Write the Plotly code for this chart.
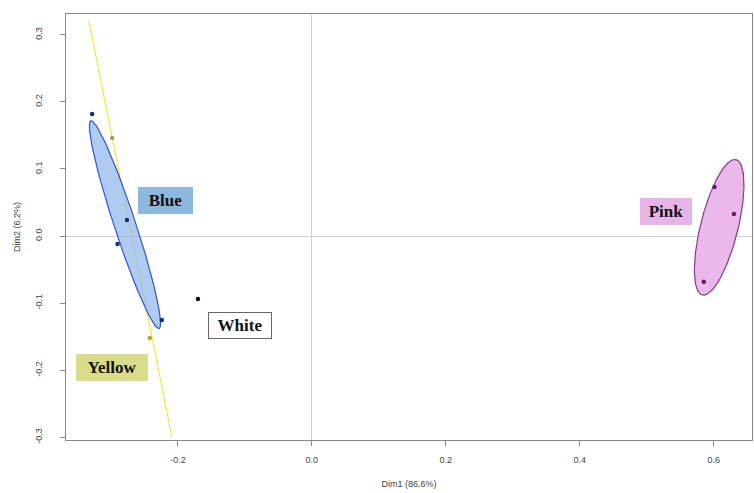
import numpy as np
import plotly.graph_objects as go

# ---- data ----
groups = ["Blue", "Yellow", "White", "Pink"]
blue_x = [-0.328, -0.276, -0.290, -0.224]
blue_y = [0.182, 0.024, -0.012, -0.125]
yellow_x = [-0.298, -0.242]
yellow_y = [0.146, -0.152]
white_x = [-0.170]
white_y = [-0.094]
pink_x = [0.601, 0.630, 0.585]
pink_y = [0.073, 0.033, -0.068]

# ellipse parameters: center x, center y, semi-major, semi-minor, angle (deg)
blue_ell = [-0.279, 0.017, 0.163, 0.016, -71.8]
yellow_ell = [-0.271, 0.011, 0.317, 0.0, -78.7]
pink_ell = [0.608, 0.013, 0.104, 0.028, 76.0]

# label positions and box sizes (px)
label_text = ["Blue", "Yellow", "White", "Pink"]
label_x = [-0.219, -0.299, -0.107, 0.528]
label_y = [0.053, -0.196, -0.133, 0.036]
label_w = [55, 72, 64, 52]
label_h = [27, 27, 27, 27]
label_bg = ["#8fb8e0", "#d9dc8a", "#ffffff", "#e8b4e8"]
label_border = ["#8fb8e0", "#d9dc8a", "#666666", "#e8b4e8"]

xticks = [-0.2, 0.0, 0.2, 0.4, 0.6]
xtick_labels = ["-0.2", "0.0", "0.2", "0.4", "0.6"]
yticks = [-0.3, -0.2, -0.1, 0.0, 0.1, 0.2, 0.3]
ytick_labels = ["-0.3", "-0.2", "-0.1", "0.0", "0.1", "0.2", "0.3"]


def ellipse(params, n=200):
    cx, cy, a, b, ang = params
    t = np.linspace(0, 2 * np.pi, n)
    th = np.deg2rad(ang)
    x = cx + a * np.cos(t) * np.cos(th) - b * np.sin(t) * np.sin(th)
    y = cy + a * np.cos(t) * np.sin(th) + b * np.sin(t) * np.cos(th)
    return x, y


fig = go.Figure()

# yellow degenerate ellipse (line)
yx, yy = ellipse(yellow_ell)
fig.add_trace(go.Scatter(x=yx, y=yy, mode="lines",
                         line=dict(color="#f2e64a", width=1.2),
                         hoverinfo="skip", showlegend=False))

bx, by = ellipse(blue_ell)
fig.add_trace(go.Scatter(x=bx, y=by, mode="lines", fill="toself",
                         fillcolor="rgba(150,185,235,0.75)",
                         line=dict(color="#2f55c8", width=1.2),
                         hoverinfo="skip", showlegend=False))

px_, py_ = ellipse(pink_ell)
fig.add_trace(go.Scatter(x=px_, y=py_, mode="lines", fill="toself",
                         fillcolor="rgba(232,176,232,0.9)",
                         line=dict(color="#8a3a8a", width=1.2),
                         hoverinfo="skip", showlegend=False))

fig.add_trace(go.Scatter(x=blue_x, y=blue_y, mode="markers",
                         marker=dict(color="#1b2a7a", size=4.5), showlegend=False))
fig.add_trace(go.Scatter(x=yellow_x, y=yellow_y, mode="markers",
                         marker=dict(color="#b09a50", size=4.5), showlegend=False))
fig.add_trace(go.Scatter(x=white_x, y=white_y, mode="markers",
                         marker=dict(color="#111111", size=4.5), showlegend=False))
fig.add_trace(go.Scatter(x=pink_x, y=pink_y, mode="markers",
                         marker=dict(color="#6a1a5a", size=4.5), showlegend=False))

for t, x, y, w, h, bg, bc in zip(label_text, label_x, label_y, label_w, label_h,
                                 label_bg, label_border):
    fig.add_annotation(x=x, y=y, text="<b>" + t + "</b>", showarrow=False,
                       font=dict(family="Liberation Serif", size=17, color="#111111"),
                       width=w - 4, height=h - 4, align="center", valign="middle",
                       bgcolor=bg, bordercolor=bc, borderwidth=1, borderpad=1)

fig.update_layout(
    width=754, height=493,
    margin=dict(l=66, r=2, t=14, b=53),
    plot_bgcolor="white", paper_bgcolor="white",
    font=dict(family="Liberation Sans", size=9, color="#444444"),
)
fig.update_xaxes(range=[-0.367, 0.657], tickvals=xticks, ticktext=xtick_labels,
                 showgrid=False, zeroline=True, zerolinecolor="#d0d0d0", zerolinewidth=1,
                 showline=True, linecolor="#888888", linewidth=1.2, mirror=True,
                 ticks="outside", ticklen=5, tickcolor="#888888",
                 ticklabelstandoff=6,
                 title=dict(text="Dim1 (86.6%)", font=dict(size=9), standoff=16))
fig.update_yaxes(range=[-0.304, 0.331], tickvals=yticks, ticktext=ytick_labels,
                 tickangle=-90,
                 showgrid=False, zeroline=True, zerolinecolor="#d0d0d0", zerolinewidth=1,
                 showline=True, linecolor="#888888", linewidth=1.2, mirror=True,
                 ticks="outside", ticklen=5, tickcolor="#888888",
                 ticklabelstandoff=14,
                 title=dict(text="Dim2 (6.2%)", font=dict(size=9), standoff=12))

fig.write_html("out.html")
